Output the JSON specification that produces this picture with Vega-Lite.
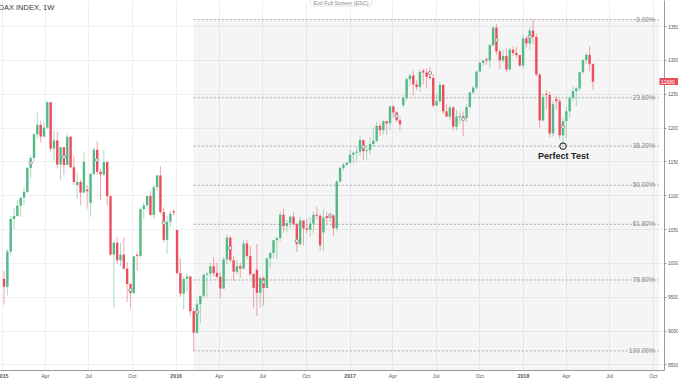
{
"$schema": "https://vega.github.io/schema/vega-lite/v6.json",
"width": 664, "height": 370,
"autosize": {"type": "none"},
"padding": {"left": 0, "top": 0, "right": 14, "bottom": 11},
"background": "white",
"title": {"text": "DAX INDEX, 1W", "anchor": "start", "frame": "group", "orient": "top", "offset": -12.5, "dx": -1.5, "fontSize": 7.5, "fontWeight": 500, "color": "#3a3a3a", "font": "Liberation Sans"},
"config": {
  "view": {"stroke": null},
  "font": "Liberation Sans",
  "axisX": {"labelExpr": "utcmonth(datum.value)==0 ? utcFormat(datum.value,'%Y') : utcFormat(datum.value,'%b')", "labelFlush": -20, "labelOverlap": false, "grid": true, "gridColor": "#eef1f1", "domainColor": "#9a9a9a", "ticks": false, "labelFontSize": 5.2, "labelColor": "#555555", "labelPadding": 3, "labelFontWeight": {"condition": {"test": "utcmonth(datum.value)==0", "value": "bold"}, "value": "normal"}},
  "axisY": {"values": [8500,8750,9000,9250,9500,9750,10000,10250,10500,10750,11000,11250,11500,11750,12000,12250,12500,12750,13000,13250,13500,13750], "format": "d", "grid": true, "gridColor": "#eef1f1", "domainColor": "#9a9a9a", "tickColor": "#9a9a9a", "tickSize": 2, "labelPadding": 1.5, "labelFontSize": 5, "labelColor": "#555555", "labelFlush": false}
},
"datasets": {
"candles": [
{"d":"2015-01-05","o":9764,"h":9880,"l":9382,"c":9648},
{"d":"2015-01-12","o":9648,"h":10200,"l":9520,"c":10168},
{"d":"2015-01-19","o":10168,"h":10700,"l":10110,"c":10649},
{"d":"2015-01-26","o":10649,"h":10810,"l":10500,"c":10694},
{"d":"2015-02-02","o":10694,"h":10930,"l":10680,"c":10846},
{"d":"2015-02-09","o":10846,"h":10970,"l":10680,"c":10963},
{"d":"2015-02-16","o":10963,"h":11120,"l":10850,"c":11050},
{"d":"2015-02-23","o":11050,"h":11420,"l":11030,"c":11402},
{"d":"2015-03-02","o":11402,"h":11590,"l":11260,"c":11551},
{"d":"2015-03-09","o":11551,"h":11920,"l":11490,"c":11901},
{"d":"2015-03-16","o":11901,"h":12220,"l":11830,"c":12040},
{"d":"2015-03-23","o":12040,"h":12100,"l":11780,"c":11868},
{"d":"2015-03-30","o":11868,"h":12100,"l":11850,"c":12001},
{"d":"2015-04-06","o":12001,"h":12390,"l":11980,"c":12375},
{"d":"2015-04-13","o":12375,"h":12380,"l":11650,"c":11689},
{"d":"2015-04-20","o":11689,"h":11960,"l":11500,"c":11811},
{"d":"2015-04-27","o":11811,"h":11930,"l":11400,"c":11454},
{"d":"2015-05-04","o":11454,"h":11720,"l":11230,"c":11709},
{"d":"2015-05-11","o":11709,"h":11720,"l":11300,"c":11447},
{"d":"2015-05-18","o":11447,"h":11920,"l":11440,"c":11865},
{"d":"2015-05-25","o":11865,"h":11880,"l":11400,"c":11413},
{"d":"2015-06-01","o":11413,"h":11590,"l":11150,"c":11197},
{"d":"2015-06-08","o":11150,"h":11330,"l":10950,"c":11196},
{"d":"2015-06-15","o":11196,"h":11230,"l":10850,"c":11040},
{"d":"2015-06-22","o":11040,"h":11630,"l":11030,"c":11492},
{"d":"2015-06-29","o":11083,"h":11150,"l":10800,"c":11058},
{"d":"2015-07-06","o":10890,"h":11330,"l":10680,"c":11316},
{"d":"2015-07-13","o":11316,"h":11700,"l":11300,"c":11673},
{"d":"2015-07-20","o":11673,"h":11800,"l":11300,"c":11347},
{"d":"2015-07-27","o":11347,"h":11400,"l":10930,"c":11308},
{"d":"2015-08-03","o":11308,"h":11670,"l":11280,"c":11490},
{"d":"2015-08-10","o":11490,"h":11500,"l":10850,"c":10985},
{"d":"2015-08-17","o":10985,"h":11000,"l":10100,"c":10124},
{"d":"2015-08-24","o":10124,"h":10330,"l":9338,"c":10298},
{"d":"2015-08-31","o":10298,"h":10380,"l":9980,"c":10038},
{"d":"2015-09-07","o":10038,"h":10300,"l":9950,"c":10123},
{"d":"2015-09-14","o":10123,"h":10380,"l":9890,"c":9916},
{"d":"2015-09-21","o":9916,"h":10010,"l":9420,"c":9688},
{"d":"2015-09-28","o":9688,"h":9700,"l":9325,"c":9553},
{"d":"2015-10-05","o":9553,"h":10100,"l":9550,"c":10096},
{"d":"2015-10-12","o":10120,"h":10160,"l":9880,"c":10104},
{"d":"2015-10-19","o":10104,"h":10820,"l":10080,"c":10795},
{"d":"2015-10-26","o":10795,"h":10900,"l":10650,"c":10850},
{"d":"2015-11-02","o":10850,"h":11000,"l":10780,"c":10988},
{"d":"2015-11-09","o":10988,"h":11060,"l":10690,"c":10708},
{"d":"2015-11-16","o":10708,"h":11150,"l":10650,"c":11120},
{"d":"2015-11-23","o":11120,"h":11300,"l":11060,"c":11293},
{"d":"2015-11-30","o":11293,"h":11430,"l":10720,"c":10752},
{"d":"2015-12-07","o":10752,"h":10820,"l":10300,"c":10340},
{"d":"2015-12-14","o":10340,"h":10700,"l":10130,"c":10608},
{"d":"2015-12-21","o":10608,"h":10770,"l":10530,"c":10727},
{"d":"2015-12-28","o":10762,"h":10800,"l":10700,"c":10743},
{"d":"2016-01-04","o":10485,"h":10490,"l":9830,"c":9849},
{"d":"2016-01-11","o":9849,"h":10070,"l":9500,"c":9545},
{"d":"2016-01-18","o":9545,"h":9800,"l":9310,"c":9764},
{"d":"2016-01-25","o":9764,"h":9840,"l":9560,"c":9798},
{"d":"2016-02-01","o":9798,"h":9810,"l":9220,"c":9286},
{"d":"2016-02-08","o":9286,"h":9330,"l":8699,"c":8967},
{"d":"2016-02-15","o":8967,"h":9460,"l":8950,"c":9388},
{"d":"2016-02-22","o":9388,"h":9500,"l":9110,"c":9513},
{"d":"2016-02-29","o":9513,"h":9840,"l":9480,"c":9824},
{"d":"2016-03-07","o":9824,"h":9870,"l":9500,"c":9840},
{"d":"2016-03-14","o":9840,"h":10000,"l":9780,"c":9950},
{"d":"2016-03-21","o":9950,"h":10080,"l":9800,"c":9851},
{"d":"2016-03-28","o":9851,"h":10000,"l":9780,"c":9794},
{"d":"2016-04-04","o":9794,"h":9860,"l":9480,"c":9622},
{"d":"2016-04-11","o":9622,"h":10090,"l":9610,"c":10051},
{"d":"2016-04-18","o":10051,"h":10420,"l":9980,"c":10373},
{"d":"2016-04-25","o":10373,"h":10400,"l":10010,"c":10039},
{"d":"2016-05-02","o":10039,"h":10100,"l":9740,"c":9870},
{"d":"2016-05-09","o":9870,"h":10050,"l":9830,"c":9952},
{"d":"2016-05-16","o":9952,"h":10000,"l":9780,"c":9916},
{"d":"2016-05-23","o":9916,"h":10330,"l":9900,"c":10287},
{"d":"2016-05-30","o":10287,"h":10340,"l":10050,"c":10103},
{"d":"2016-06-06","o":10103,"h":10250,"l":9800,"c":9834},
{"d":"2016-06-13","o":9834,"h":9850,"l":9326,"c":9631},
{"d":"2016-06-20","o":9900,"h":10280,"l":9214,"c":9557},
{"d":"2016-06-27","o":9557,"h":9800,"l":9340,"c":9776},
{"d":"2016-07-04","o":9776,"h":9800,"l":9370,"c":9629},
{"d":"2016-07-11","o":9629,"h":10080,"l":9620,"c":10066},
{"d":"2016-07-18","o":10066,"h":10160,"l":9920,"c":10147},
{"d":"2016-07-25","o":10147,"h":10340,"l":10060,"c":10337},
{"d":"2016-08-01","o":10337,"h":10390,"l":10050,"c":10367},
{"d":"2016-08-08","o":10367,"h":10760,"l":10320,"c":10713},
{"d":"2016-08-15","o":10713,"h":10800,"l":10450,"c":10544},
{"d":"2016-08-22","o":10544,"h":10640,"l":10460,"c":10588},
{"d":"2016-08-29","o":10588,"h":10700,"l":10510,"c":10684},
{"d":"2016-09-05","o":10684,"h":10750,"l":10540,"c":10573},
{"d":"2016-09-12","o":10573,"h":10590,"l":10160,"c":10276},
{"d":"2016-09-19","o":10276,"h":10680,"l":10260,"c":10626},
{"d":"2016-09-26","o":10626,"h":10630,"l":10260,"c":10511},
{"d":"2016-10-03","o":10511,"h":10650,"l":10440,"c":10490},
{"d":"2016-10-10","o":10490,"h":10680,"l":10390,"c":10580},
{"d":"2016-10-17","o":10580,"h":10760,"l":10440,"c":10711},
{"d":"2016-10-24","o":10711,"h":10830,"l":10640,"c":10696},
{"d":"2016-10-31","o":10696,"h":10730,"l":10180,"c":10259},
{"d":"2016-11-07","o":10450,"h":10800,"l":10174,"c":10668},
{"d":"2016-11-14","o":10690,"h":10750,"l":10570,"c":10664},
{"d":"2016-11-21","o":10664,"h":10750,"l":10600,"c":10700},
{"d":"2016-11-28","o":10700,"h":10720,"l":10400,"c":10513},
{"d":"2016-12-05","o":10513,"h":11220,"l":10470,"c":11203},
{"d":"2016-12-12","o":11203,"h":11420,"l":11180,"c":11404},
{"d":"2016-12-19","o":11404,"h":11480,"l":11360,"c":11450},
{"d":"2016-12-26","o":11450,"h":11490,"l":11430,"c":11481},
{"d":"2017-01-02","o":11481,"h":11670,"l":11470,"c":11599},
{"d":"2017-01-09","o":11599,"h":11650,"l":11470,"c":11629},
{"d":"2017-01-16","o":11629,"h":11720,"l":11500,"c":11645},
{"d":"2017-01-23","o":11645,"h":11890,"l":11580,"c":11814},
{"d":"2017-01-30","o":11814,"h":11820,"l":11520,"c":11651},
{"d":"2017-02-06","o":11651,"h":11720,"l":11520,"c":11666},
{"d":"2017-02-13","o":11666,"h":11860,"l":11600,"c":11757},
{"d":"2017-02-20","o":11757,"h":12000,"l":11720,"c":11804},
{"d":"2017-02-27","o":11804,"h":12090,"l":11780,"c":12027},
{"d":"2017-03-06","o":12027,"h":12070,"l":11880,"c":11963},
{"d":"2017-03-13","o":11963,"h":12110,"l":11900,"c":12095},
{"d":"2017-03-20","o":12095,"h":12100,"l":11900,"c":12064},
{"d":"2017-03-27","o":12064,"h":12320,"l":11960,"c":12313},
{"d":"2017-04-03","o":12313,"h":12330,"l":12150,"c":12225},
{"d":"2017-04-10","o":12225,"h":12250,"l":12080,"c":12109},
{"d":"2017-04-17","o":12109,"h":12160,"l":11960,"c":12049},
{"d":"2017-04-24","o":12330,"h":12480,"l":12300,"c":12438},
{"d":"2017-05-01","o":12438,"h":12740,"l":12400,"c":12717},
{"d":"2017-05-08","o":12717,"h":12800,"l":12620,"c":12770},
{"d":"2017-05-15","o":12770,"h":12840,"l":12480,"c":12638},
{"d":"2017-05-22","o":12638,"h":12700,"l":12560,"c":12602},
{"d":"2017-05-29","o":12602,"h":12860,"l":12530,"c":12823},
{"d":"2017-06-05","o":12840,"h":12870,"l":12640,"c":12815},
{"d":"2017-06-12","o":12815,"h":12870,"l":12580,"c":12753},
{"d":"2017-06-19","o":12753,"h":12890,"l":12710,"c":12733},
{"d":"2017-06-26","o":12733,"h":12790,"l":12300,"c":12325},
{"d":"2017-07-03","o":12325,"h":12500,"l":12320,"c":12389},
{"d":"2017-07-10","o":12389,"h":12680,"l":12370,"c":12632},
{"d":"2017-07-17","o":12632,"h":12640,"l":12200,"c":12240},
{"d":"2017-07-24","o":12240,"h":12340,"l":12160,"c":12163},
{"d":"2017-07-31","o":12163,"h":12330,"l":12110,"c":12298},
{"d":"2017-08-07","o":12298,"h":12320,"l":11970,"c":12014},
{"d":"2017-08-14","o":12014,"h":12260,"l":11960,"c":12166},
{"d":"2017-08-21","o":12150,"h":12240,"l":12050,"c":12168},
{"d":"2017-08-28","o":12168,"h":12240,"l":11870,"c":12142},
{"d":"2017-09-04","o":12142,"h":12350,"l":12080,"c":12304},
{"d":"2017-09-11","o":12304,"h":12540,"l":12300,"c":12519},
{"d":"2017-09-18","o":12519,"h":12620,"l":12500,"c":12592},
{"d":"2017-09-25","o":12592,"h":12840,"l":12560,"c":12829},
{"d":"2017-10-02","o":12829,"h":12980,"l":12820,"c":12956},
{"d":"2017-10-09","o":12956,"h":13000,"l":12900,"c":12992},
{"d":"2017-10-16","o":13010,"h":13040,"l":12930,"c":12991},
{"d":"2017-10-23","o":12991,"h":13240,"l":12880,"c":13218},
{"d":"2017-10-30","o":13218,"h":13500,"l":13200,"c":13479},
{"d":"2017-11-06","o":13479,"h":13530,"l":13080,"c":13127},
{"d":"2017-11-13","o":13127,"h":13150,"l":12860,"c":12994},
{"d":"2017-11-20","o":12994,"h":13150,"l":12960,"c":13060},
{"d":"2017-11-27","o":13060,"h":13170,"l":12820,"c":12861},
{"d":"2017-12-04","o":12861,"h":13180,"l":12840,"c":13153},
{"d":"2017-12-11","o":13153,"h":13200,"l":13060,"c":13104},
{"d":"2017-12-18","o":13104,"h":13200,"l":13030,"c":13072},
{"d":"2017-12-25","o":13072,"h":13080,"l":12900,"c":12918},
{"d":"2018-01-01","o":12918,"h":13380,"l":12880,"c":13320},
{"d":"2018-01-08","o":13320,"h":13350,"l":13180,"c":13245},
{"d":"2018-01-15","o":13245,"h":13480,"l":13150,"c":13434},
{"d":"2018-01-22","o":13434,"h":13597,"l":13230,"c":13340},
{"d":"2018-01-29","o":13340,"h":13390,"l":12760,"c":12785},
{"d":"2018-02-05","o":12785,"h":12800,"l":12000,"c":12107},
{"d":"2018-02-12","o":12107,"h":12500,"l":12090,"c":12452},
{"d":"2018-02-19","o":12500,"h":12550,"l":12270,"c":12483},
{"d":"2018-02-26","o":12483,"h":12530,"l":11860,"c":11914},
{"d":"2018-03-05","o":11914,"h":12400,"l":11870,"c":12346},
{"d":"2018-03-12","o":12420,"h":12470,"l":12270,"c":12390},
{"d":"2018-03-19","o":12390,"h":12420,"l":11830,"c":11886},
{"d":"2018-03-26","o":11886,"h":12150,"l":11726,"c":12097},
{"d":"2018-04-02","o":12097,"h":12320,"l":11830,"c":12241},
{"d":"2018-04-09","o":12241,"h":12460,"l":12150,"c":12442},
{"d":"2018-04-16","o":12442,"h":12610,"l":12390,"c":12540},
{"d":"2018-04-23","o":12540,"h":12600,"l":12320,"c":12580},
{"d":"2018-04-30","o":12580,"h":12830,"l":12540,"c":12820},
{"d":"2018-05-07","o":12820,"h":13010,"l":12800,"c":13001},
{"d":"2018-05-14","o":13001,"h":13100,"l":12940,"c":13077},
{"d":"2018-05-21","o":13077,"h":13204,"l":12830,"c":12938},
{"d":"2018-05-28","o":12938,"h":12950,"l":12560,"c":12680}
],
"markers": [
{"d":"2015-03-02","p":11477},{"d":"2015-05-11","p":11566},{"d":"2015-07-20","p":11521},{"d":"2015-09-28","p":9599},
{"d":"2015-12-07","p":10590},{"d":"2016-02-15","p":9274},{"d":"2016-04-25","p":10220},{"d":"2016-07-04","p":9717},
{"d":"2016-09-12","p":10323},{"d":"2016-11-21","p":10693},{"d":"2017-01-30","p":11713},{"d":"2017-04-10","p":12172},
{"d":"2017-06-19","p":12808},{"d":"2017-08-28","p":12127},{"d":"2017-11-06","p":13296},{"d":"2018-01-15","p":13340},
{"d":"2018-03-26","p":12009}
],
"fib": [
{"label":"0.00%","price":13597},{"label":"23.60%","price":12441},{"label":"38.20%","price":11726},
{"label":"50.00%","price":11148},{"label":"61.80%","price":10570},{"label":"78.60%","price":9747},{"label":"100.00%","price":8699}
]
},
"layer": [
{
 "data": {"values": [{"from": "2016-02-08", "top": 13597}]},
 "mark": {"type": "rect", "fill": "#000000", "opacity": 0.04},
 "encoding": {
  "x": {"field": "from", "type": "temporal", "title": null,
        "scale": {"type": "utc", "domain": [{"year": 2015, "month": 1, "date": 7, "utc": true}, {"year": 2018, "month": 10, "date": 14, "utc": true}]},
        "axis": {"labelFlush": -20, "labelOverlap": false,
                 "values": [{"year":2015,"month":1,"date":1,"utc":true},{"year":2015,"month":4,"date":1,"utc":true},{"year":2015,"month":7,"date":1,"utc":true},{"year":2015,"month":10,"date":1,"utc":true},
                            {"year":2016,"month":1,"date":1,"utc":true},{"year":2016,"month":4,"date":1,"utc":true},{"year":2016,"month":7,"date":1,"utc":true},{"year":2016,"month":10,"date":1,"utc":true},
                            {"year":2017,"month":1,"date":1,"utc":true},{"year":2017,"month":4,"date":1,"utc":true},{"year":2017,"month":7,"date":1,"utc":true},{"year":2017,"month":10,"date":1,"utc":true},
                            {"year":2018,"month":1,"date":1,"utc":true},{"year":2018,"month":4,"date":1,"utc":true},{"year":2018,"month":7,"date":1,"utc":true},{"year":2018,"month":10,"date":1,"utc":true}]}},
  "x2": {"datum": {"year": 2018, "month": 10, "date": 14, "utc": true}},
  "y": {"field": "top", "type": "quantitative", "title": null, "scale": {"domain": [8416, 13887], "nice": false, "zero": false}, "axis": {"orient": "right", "labelFlush": false}},
  "y2": {"datum": 8416}
 }
},
{
 "data": {"name": "fib"},
 "mark": {"type": "rule", "color": "#a8a8a8", "strokeDash": [2, 2], "strokeWidth": 1},
 "encoding": {
  "x": {"datum": {"year": 2016, "month": 2, "date": 8, "utc": true}, "type": "temporal", "title": null},
  "x2": {"datum": {"year": 2018, "month": 10, "date": 14, "utc": true}},
  "y": {"field": "price", "type": "quantitative", "title": null}
 }
},
{
 "data": {"name": "fib"},
 "mark": {"type": "text", "align": "right", "baseline": "middle", "fontSize": 6.5, "color": "#888888"},
 "encoding": {
  "x": {"datum": {"year": 2018, "month": 10, "date": 5, "utc": true}, "type": "temporal", "title": null},
  "y": {"field": "price", "type": "quantitative", "title": null},
  "text": {"field": "label"}
 }
},
{
 "data": {"name": "candles"},
 "mark": {"type": "rule", "strokeWidth": 1, "opacity": 0.5},
 "encoding": {
  "x": {"field": "d", "type": "temporal", "title": null},
  "y": {"field": "l", "type": "quantitative", "title": null},
  "y2": {"field": "h"},
  "color": {"condition": {"test": "datum.c >= datum.o", "value": "#53b987"}, "value": "#eb4d5c"}
 }
},
{
 "data": {"name": "candles"},
 "mark": {"type": "bar", "size": 2.4},
 "encoding": {
  "x": {"field": "d", "type": "temporal", "title": null},
  "y": {"field": "o", "type": "quantitative", "title": null},
  "y2": {"field": "c"},
  "color": {"condition": {"test": "datum.c >= datum.o", "value": "#53b987"}, "value": "#eb4d5c"}
 }
},
{
 "data": {"name": "markers"},
 "mark": {"type": "point", "filled": true, "size": 12, "fill": "#e4e4e4", "stroke": "#8a8a8a", "strokeWidth": 0.8, "opacity": 1},
 "encoding": {
  "x": {"field": "d", "type": "temporal", "title": null},
  "y": {"field": "p", "type": "quantitative", "title": null}
 }
},
{
 "data": {"values": [{"d": "2018-03-26", "p": 11726, "t": "Perfect Test", "tp": 11585}]},
 "layer": [
  {"mark": {"type": "point", "filled": false, "size": 42, "stroke": "#111111", "strokeWidth": 1, "opacity": 1},
   "encoding": {"x": {"field": "d", "type": "temporal", "title": null}, "y": {"field": "p", "type": "quantitative", "title": null}}},
  {"mark": {"type": "text", "fontSize": 9, "fontWeight": "bold", "color": "#222222", "baseline": "middle", "align": "center", "dx": 0.5},
   "encoding": {"x": {"field": "d", "type": "temporal", "title": null}, "y": {"field": "tp", "type": "quantitative", "title": null}, "text": {"field": "t"}}}
 ]
},
{
 "data": {"values": [{"a": "2016-10-10", "b": "2017-02-17", "top": 13902, "bot": 13798, "mid": "2016-12-14", "ty": 13845, "t": "Exit Full Screen (ESC)"}]},
 "layer": [
  {"mark": {"type": "rect", "fill": "#ffffff", "stroke": "#dddddd", "strokeWidth": 0.8, "cornerRadius": 2},
   "encoding": {"x": {"field": "a", "type": "temporal", "title": null}, "x2": {"field": "b"}, "y": {"field": "top", "type": "quantitative", "title": null}, "y2": {"field": "bot"}}},
  {"mark": {"type": "text", "fontSize": 5.5, "color": "#8a8a8a", "baseline": "middle", "align": "center"},
   "encoding": {"x": {"field": "mid", "type": "temporal", "title": null}, "y": {"field": "ty", "type": "quantitative", "title": null}, "text": {"field": "t"}}}
 ]
},
{
 "data": {"values": [{"a": "2018-10-15", "b": "2018-11-30", "top": 12735, "bot": 12630, "tx": "2018-10-18", "last": 12680}]},
 "layer": [
  {"mark": {"type": "rect", "fill": "#eb4d5c"},
   "encoding": {"x": {"field": "a", "type": "temporal", "title": null}, "x2": {"field": "b"}, "y": {"field": "top", "type": "quantitative", "title": null}, "y2": {"field": "bot"}}},
  {"mark": {"type": "text", "fontSize": 5, "color": "#ffffff", "baseline": "middle", "align": "left"},
   "encoding": {"x": {"field": "tx", "type": "temporal", "title": null}, "y": {"field": "last", "type": "quantitative", "title": null}, "text": {"field": "last", "format": "d"}}}
 ]
}
]
}
